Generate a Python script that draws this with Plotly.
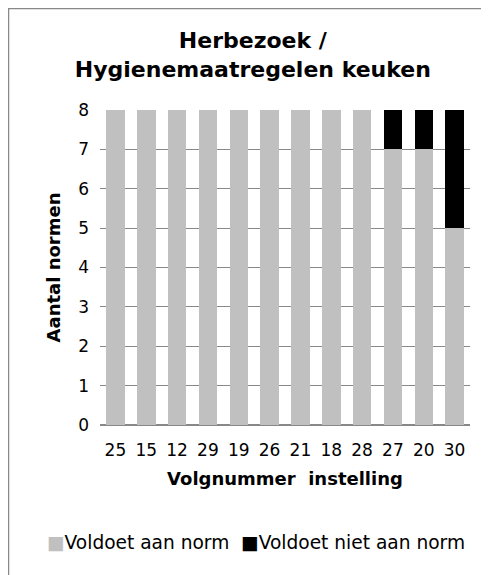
import plotly.graph_objects as go

instellingen = ["25", "15", "12", "29", "19", "26", "21", "18", "28", "27", "20", "30"]
voldoet = [8, 8, 8, 8, 8, 8, 8, 8, 8, 7, 7, 5]
voldoet_niet = [0, 0, 0, 0, 0, 0, 0, 0, 0, 1, 1, 3]
series_names = ["Voldoet aan norm", "Voldoet niet aan norm"]
series_colors = ["#C0C0C0", "#000000"]

font = "DejaVu Sans, Verdana, sans-serif"

fig = go.Figure()
for vals, name, col in zip([voldoet, voldoet_niet], series_names, series_colors):
    fig.add_trace(go.Bar(x=instellingen, y=vals, name=name, showlegend=False,
                         marker=dict(color=col, line=dict(width=0))))

# page has an 8px body margin, so the figure is a bit smaller than the window
fig.update_layout(
    width=481, height=567,
    barmode="stack", bargap=0.4,
    plot_bgcolor="white", paper_bgcolor="white",
    margin=dict(l=92, r=19, t=102, b=150),
    font=dict(family=font, size=16, color="black"),
    title=dict(text="<b>Herbezoek /<br>Hygienemaatregelen keuken</b>",
               x=0.509, xanchor="center", y=0.929, yanchor="top",
               font=dict(size=22)),
)
fig.update_xaxes(type="category", showgrid=False, showline=True, linecolor="#888888",
                 ticklabelstandoff=10,
                 title=dict(text="<b>Volgnummer  instelling</b>", font=dict(size=18), standoff=12),
                 tickfont=dict(size=17))
fig.update_yaxes(range=[0, 8], dtick=1, showgrid=True, gridcolor="#888888", gridwidth=1,
                 zeroline=True, zerolinecolor="#888888", ticklabelstandoff=10,
                 title=dict(text="<b>Aantal normen</b>", font=dict(size=18), standoff=12),
                 tickfont=dict(size=17))

# legend drawn as text with coloured squares
legend_text = "  ".join(
    f"<span style='color:{c}'>■</span>{n}" for n, c in zip(series_names, series_colors))
fig.add_annotation(text=legend_text, xref="paper", yref="paper",
                   x=0.422, y=-0.3746, xanchor="center", yanchor="middle",
                   showarrow=False, font=dict(size=18.6))

# chart border
fig.add_shape(type="rect", xref="paper", yref="paper",
              x0=-0.2473, x1=1.0432, y0=-0.5, y1=1.3222,
              line=dict(color="#888888", width=1.5), layer="below")

fig.write_html("out.html")
